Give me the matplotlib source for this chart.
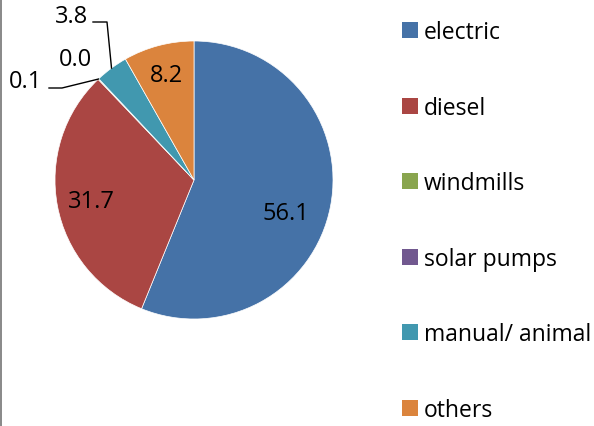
import numpy as np
import matplotlib
matplotlib.use("Agg")
import matplotlib.pyplot as plt
from matplotlib.patches import Patch
from matplotlib.lines import Line2D

# ── Data ──────────────────────────────────────────────────────────────────────
categories = ["electric", "diesel", "windmills", "solar pumps", "manual/ animal", "others"]
shares     = [56.1, 31.7, 0.1, 0.0, 3.8, 8.2]
labels_txt = ["56.1", "31.7", "0.1", "0.0", "3.8", "8.2"]
colors     = ["#4572A7", "#AA4643", "#89A54E", "#71588F", "#4198AF", "#DB843D"]

plt.rcParams["font.family"] = ["Open Sans", "DejaVu Sans"]
FS = 17        # data labels
FS_LEG = 16.5  # legend

W, H = 594, 427
CX, CY, R = 194, 181, 139   # pie centre / radius in pixels


def px(x, y):
    """pixel (top-left origin) -> pie data coords (radius 1)"""
    return (x - CX) / R, (CY - y) / R


fig = plt.figure(figsize=(W / 100, H / 100), dpi=100)
ax = fig.add_axes([(CX - R) / W, (H - CY - R) / H, 2 * R / W, 2 * R / H])
wedges, _ = ax.pie(shares, colors=colors, startangle=90, counterclock=False,
                   radius=1, wedgeprops=dict(edgecolor="white", linewidth=0.5))
ax.set_xlim(-1, 1)
ax.set_ylim(-1, 1)
ax.set_aspect("equal")
ax.axis("off")

# ── Data labels ───────────────────────────────────────────────────────────────
label_pos = {
    "56.1": (286, 214),
    "31.7": (91, 202),
    "0.1":  (26, 82),
    "0.0":  (75, 60),
    "3.8":  (72, 17),
    "8.2":  (166, 76),
}
for txt in labels_txt:
    x, y = px(*label_pos[txt])
    ax.text(x, y, txt, ha="center", va="center", fontsize=FS, color="black",
            clip_on=False)


def wedge_mid(w):
    a = np.deg2rad((w.theta1 + w.theta2) / 2)
    return np.cos(a), np.sin(a)


# leader lines for the small slices
for idx, pts in [(4, [(93, 23), (107, 23)]), (2, [(49, 89), (62, 89)])]:
    xs = [px(*p)[0] for p in pts]
    ys = [px(*p)[1] for p in pts]
    ex, ey = wedge_mid(wedges[idx])
    ax.plot(xs + [ex], ys + [ey], color="black", lw=1.0, clip_on=False)

# ── Legend ────────────────────────────────────────────────────────────────────
handles = [Patch(facecolor=c, edgecolor="none") for c in colors]
em = FS_LEG * 100 / 72
fig.legend(handles, categories, loc="upper left",
           bbox_to_anchor=(402 / W, 1 - 21 / H), frameon=False,
           fontsize=FS_LEG, handlelength=16 / em, handleheight=16 / em,
           handletextpad=6 / em, labelspacing=2.25, borderpad=0,
           borderaxespad=0)

# thin grey border on the left edge
fig.add_artist(Line2D([1 / W, 1 / W], [0, 1], color="#888888", lw=1.4,
                      transform=fig.transFigure))

fig.savefig("out.png", dpi=100)
